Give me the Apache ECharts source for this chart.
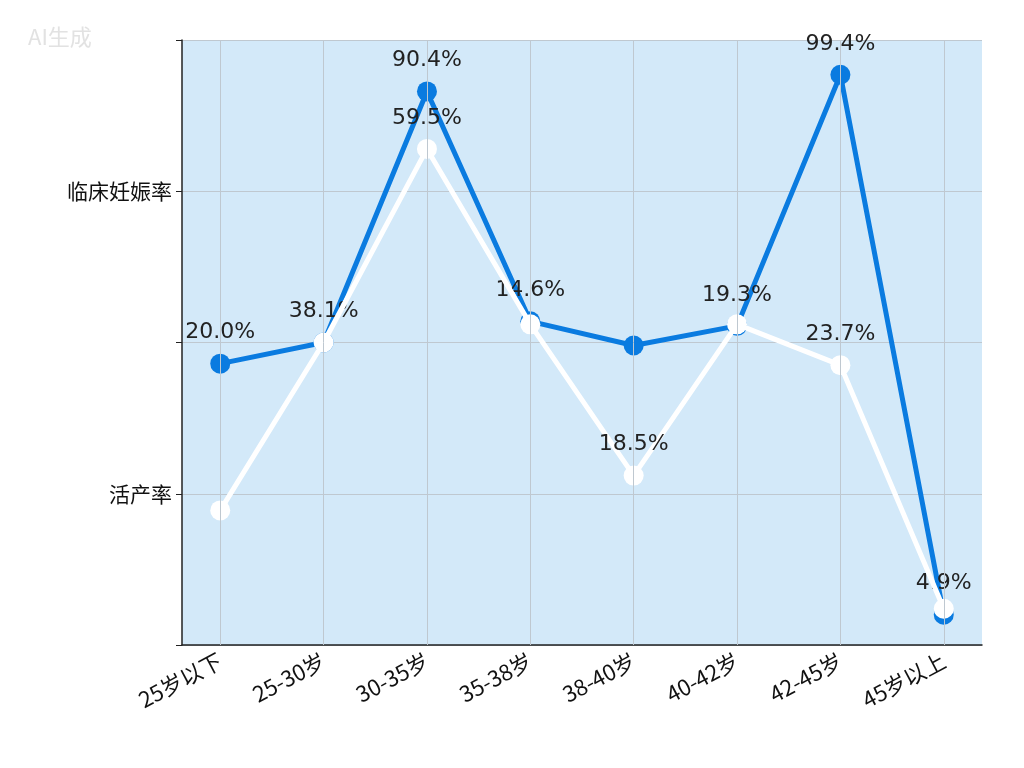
<!DOCTYPE html>
<html>
<head>
<meta charset="utf-8">
<script src="https://cdn.jsdelivr.net/npm/echarts@6/dist/echarts.min.js"></script>
<style>html,body{margin:0;padding:0;background:#fff}#main{width:1024px;height:768px}</style>
</head>
<body>
<div id="main"></div>
<script>
var categories = ['25岁以下','25-30岁','30-35岁','35-38岁','38-40岁','40-42岁','42-45岁','45岁以上'];
// 点在图中的纵向位置（坐标轴无数值刻度）
var bluePos = [1.86, 2.00, 3.66, 2.14, 1.98, 2.11, 3.77, 0.20];
var whitePos = [0.89, 2.00, 3.28, 2.12, 1.12, 2.12, 1.85, 0.24];
var blueLabels = ['20.0%','38.1%','90.4%','14.6%','','19.3%','99.4%','4.9%'];
var whiteLabels = ['','','59.5%','','18.5%','','23.7%',''];
var yTickLabels = {1: '活产率', 3: '临床妊娠率'};

function build(pos, labels) {
    var out = [];
    for (var i = 0; i < pos.length; i++) {
        out.push({ value: [i, pos[i]], label: { show: labels[i] !== '', formatter: labels[i] } });
    }
    return out;
}
var idx = categories.map(function (c, i) { return i; });

var chart = echarts.init(document.getElementById('main'));
chart.setOption({
    animation: false,
    graphic: [{
        type: 'text', left: 28, top: 26,
        style: { text: 'AI生成', fill: '#e2e2e2', font: '22px "Noto Sans CJK SC"' }
    }],
    grid: { left: 182, right: 42, top: 40, bottom: 123, show: true, backgroundColor: '#d3e9f9', borderWidth: 0 },
    xAxis: {
        type: 'value', min: -0.37, max: 7.37,
        axisLine: { show: true, onZero: false, lineStyle: { color: '#222', width: 1.5 } },
        axisTick: { show: false },
        axisLabel: { customValues: idx, rotate: 28, fontSize: 22, color: '#111', margin: 14,
            fontFamily: 'Noto Sans CJK SC', formatter: function (v) { return categories[Math.round(v)]; } },
        splitLine: { show: false }
    },
    yAxis: {
        type: 'value', min: 0, max: 4, interval: 1,
        axisLine: { show: true, onZero: false, lineStyle: { color: '#222', width: 1.5 } },
        axisTick: { show: true, length: 6, lineStyle: { color: '#222' } },
        axisLabel: { fontSize: 21, color: '#111', fontFamily: 'Noto Sans CJK SC', margin: 10,
            formatter: function (v) { return yTickLabels[v] || ''; } },
        splitLine: { show: true, lineStyle: { color: '#bfc8d0' } }
    },
    series: [{
        name: 'grid', type: 'line', data: [], silent: true,
        markLine: { symbol: 'none', silent: true, label: { show: false },
            lineStyle: { color: '#bfc8d0', type: 'solid', width: 1 },
            data: idx.map(function (i) { return { xAxis: i }; }) }
    }, {
        name: '活产率', type: 'line', data: build(whitePos, whiteLabels),
        symbol: 'circle', symbolSize: 20, z: 3,
        lineStyle: { color: '#ffffff', width: 5 },
        itemStyle: { color: '#ffffff' },
        label: { position: 'top', distance: 10, fontSize: 22, color: '#222', fontFamily: 'DejaVu Sans' }
    }, {
        name: '临床妊娠率', type: 'line', data: build(bluePos, blueLabels),
        symbol: 'circle', symbolSize: 20, z: 2,
        lineStyle: { color: '#0a7be0', width: 5 },
        itemStyle: { color: '#0a7be0' },
        label: { position: 'top', distance: 10, fontSize: 22, color: '#222', fontFamily: 'DejaVu Sans' }
    }]
});
</script>
</body>
</html>
